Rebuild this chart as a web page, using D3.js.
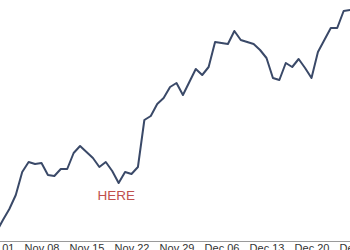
<!DOCTYPE html>
<html>
<head>
<meta charset="utf-8">
<script src="https://cdn.jsdelivr.net/npm/d3@7"></script>
<style>
  body { margin: 0; background: #fff; }
  svg { display: block; }
</style>
</head>
<body>
<div id="chart"></div>
<script>
// daily closes, Nov 01 .. Dec 25
const startDate = "2021-11-01";
const closes = [
  9, 21, 32, 46, 69, 79, 77, 78, 66, 65, 72, 72, 88, 95,
  89, 83, 74, 79, 70, 58, 69, 67, 74, 121, 125, 137, 143, 154,
  158, 146, 159, 172, 166, 174, 199, 198, 197, 210, 201, 199, 197, 191,
  183, 163, 161, 178, 174, 182, 173, 163, 189, 201, 213, 213, 230, 231
];
const tickDates = ["2021-11-01", "2021-11-08", "2021-11-15", "2021-11-22", "2021-11-29",
  "2021-12-06", "2021-12-13", "2021-12-20", "2021-12-27"];
const note = { label: "HERE", date: "2021-11-19", value: 45 };

const parse = d3.timeParse("%Y-%m-%d");
const t0 = parse(startDate);
const data = closes.map((v, i) => ({ date: d3.timeDay.offset(t0, i), value: v }));

const width = 350, height = 250;
const axisY = 241;

const svg = d3.select("#chart")
  .append("svg")
  .attr("width", width)
  .attr("height", height);

const x = d3.scaleTime()
  .domain([parse(tickDates[0]), parse(tickDates[tickDates.length - 1])])
  .range([-3.5, 356.5]);

const y = d3.scaleLinear()
  .domain([0, 241])
  .range([axisY, 0]);

const xAxis = svg.append("g")
  .attr("transform", `translate(0,${axisY})`)
  .call(d3.axisBottom(x)
    .tickValues(tickDates.map(parse))
    .tickFormat(d3.timeFormat("%b %d"))
    .tickSize(0)
    .tickPadding(3));

xAxis.select(".domain").attr("stroke", "#9a9a9a").attr("stroke-width", 1);
xAxis.selectAll("text")
  .attr("fill", "#333")
  .style("font-family", "Liberation Sans, Arial, sans-serif")
  .style("font-size", "11px");

svg.append("path")
  .datum(data)
  .attr("fill", "none")
  .attr("stroke", "#3a4968")
  .attr("stroke-width", 2)
  .attr("stroke-linejoin", "round")
  .attr("d", d3.line()
    .x(d => x(d.date))
    .y(d => y(d.value)));

svg.append("text")
  .attr("x", x(parse(note.date)))
  .attr("dx", 4)
  .attr("y", y(note.value) + 4)
  .attr("text-anchor", "middle")
  .attr("fill", "#c0504d")
  .style("font-family", "Liberation Sans, Arial, sans-serif")
  .style("font-size", "13.5px")
  .text(note.label);
</script>
</body>
</html>
